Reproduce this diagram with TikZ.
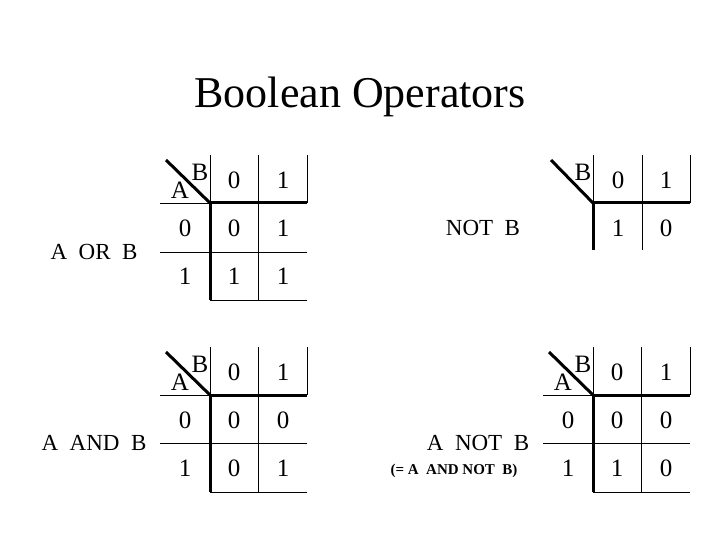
\documentclass[tikz,border=0pt]{standalone}
\usepackage{fontspec}
\setmainfont{Liberation Serif}
\begin{document}
\begin{tikzpicture}[x=1pt,y=-1pt,
  thin line/.style={line width=0.8pt},
  thick line/.style={line width=3pt},
  txt/.style={font=\fontsize{25}{27}\selectfont, inner sep=0pt},
  lbl/.style={font=\fontsize{23}{25}\selectfont, inner sep=0pt}]
\useasboundingbox (0,0) rectangle (720,540);
\node[inner sep=0pt, font=\fontsize{44}{48}\selectfont] (title) at (360,97) {Boolean Operators};
% OR table: corner (210,203)
\draw[thin line] (160,203) -- (210,203) (210,155) -- (210,203) (258,155) -- (258,300)
  (307,155) -- (307,203) (160,252) -- (307,252) (210,300) -- (307,300);
\draw[thick line] (210,203) -- (307,203) (210,203) -- (210,300);
\draw[thick line] (166,160) -- (210,203);
\node[txt] (orB) at (200,172) {B};
\node[txt] (orA) at (180,190) {A};
\node[txt] (or1) at (234,180) {0}; \node[txt] (or2) at (283,180) {1};
\node[txt] (or3) at (185,228) {0}; \node[txt] (or4) at (234,228) {0}; \node[txt] (or5) at (283,228) {1};
\node[txt] (or6) at (185,276) {1}; \node[txt] (or7) at (234,276) {1}; \node[txt] (or8) at (283,276) {1};
\node[lbl] (orlbl) at (94,252) {A\ \ OR\ \ B};
% NOT B table: corner (593,203)
\draw[thin line] (593,155) -- (593,203) (642,155) -- (642,250) (690,155) -- (690,203);
\draw[thick line] (593,203) -- (690,203) (593,203) -- (593,250);
\draw[thick line] (551,160) -- (593,203);
\node[txt] (nbB) at (583,172) {B};
\node[txt] (nb1) at (618,180) {0}; \node[txt] (nb2) at (666,180) {1};
\node[txt] (nb3) at (618,228) {1}; \node[txt] (nb4) at (666,228) {0};
\node[lbl] (nblbl) at (483,228) {NOT\ \ B};
% AND table: corner (210,395)
\draw[thin line] (160,395) -- (210,395) (210,347) -- (210,395) (258,347) -- (258,492)
  (307,347) -- (307,395) (160,443) -- (307,443) (210,492) -- (307,492);
\draw[thick line] (210,395) -- (307,395) (210,395) -- (210,492);
\draw[thick line] (166,352) -- (210,395);
\node[txt] (anB) at (200,364) {B};
\node[txt] (anA) at (180,382) {A};
\node[txt] (an1) at (234,372) {0}; \node[txt] (an2) at (283,372) {1};
\node[txt] (an3) at (185,420) {0}; \node[txt] (an4) at (234,420) {0}; \node[txt] (an5) at (283,420) {0};
\node[txt] (an6) at (185,468) {1}; \node[txt] (an7) at (234,468) {0}; \node[txt] (an8) at (283,468) {1};
\node[lbl] (anlbl) at (94,443) {A\ \ AND\ \ B};
% A NOT B table: corner (593,395)
\draw[thin line] (543,395) -- (593,395) (593,347) -- (593,395) (641,347) -- (641,492)
  (690,347) -- (690,395) (543,443) -- (690,443) (593,492) -- (690,492);
\draw[thick line] (593,395) -- (690,395) (593,395) -- (593,492);
\draw[thick line] (549,352) -- (593,395);
\node[txt] (abB) at (583,364) {B};
\node[txt] (abA) at (563,382) {A};
\node[txt] (ab1) at (617,372) {0}; \node[txt] (ab2) at (666,372) {1};
\node[txt] (ab3) at (568,420) {0}; \node[txt] (ab4) at (617,420) {0}; \node[txt] (ab5) at (666,420) {0};
\node[txt] (ab6) at (568,468) {1}; \node[txt] (ab7) at (617,468) {1}; \node[txt] (ab8) at (666,468) {0};
\node[lbl] (ablbl) at (478,443) {A\ \ NOT\ \ B};
\node[inner sep=0pt, font=\fontsize{15}{17}\selectfont\bfseries] (abeq) at (454,471) {(= A\ \ AND NOT\ \ B)};
\end{tikzpicture}
\end{document}
